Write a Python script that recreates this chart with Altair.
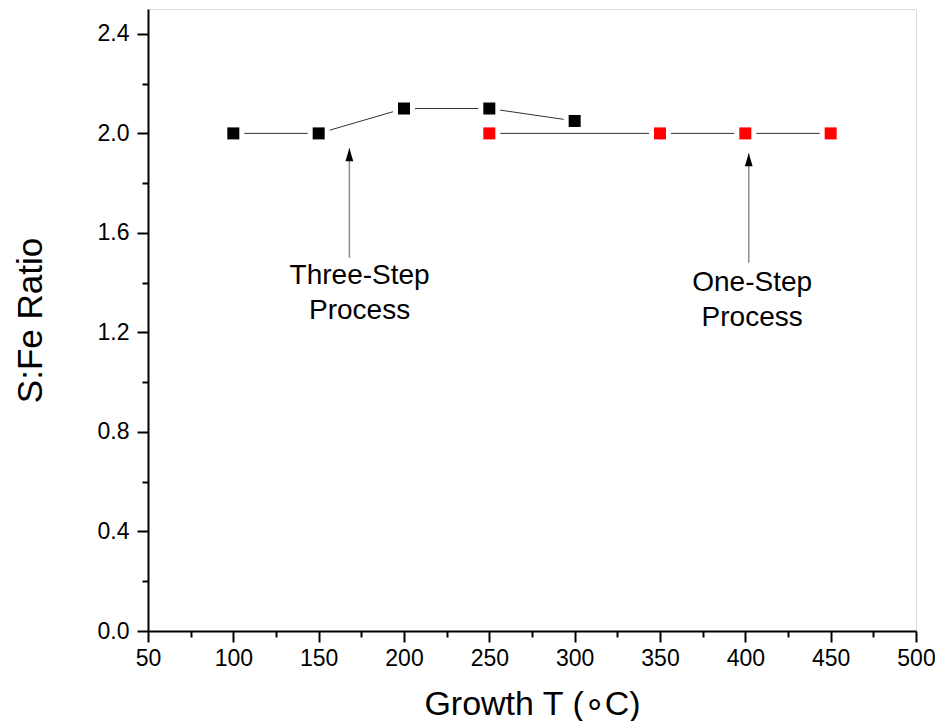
import altair as alt
import pandas as pd

# Series data
three_T = [100, 150, 200, 250, 300]
three_R = [2.0, 2.0, 2.1, 2.1, 2.05]
one_T = [250, 350, 400, 450]
one_R = [2.0, 2.0, 2.0, 2.0]

# Annotations
ann_label = ["Three-Step\nProcess", "One-Step\nProcess"]
ann_text_x = [174, 404]
ann_text_y = [1.425, 1.40]
arrow_x = [168, 402]
arrow_tip = [1.94, 1.92]
arrow_base = [1.50, 1.48]

x_ticks = list(range(50, 501, 25))
y_ticks = [round(i * 0.2, 1) for i in range(13)]

FONT = "Liberation Sans"

df = pd.DataFrame(
    {"T": three_T + one_T,
     "R": three_R + one_R,
     "s": ["three"] * len(three_T) + ["one"] * len(one_T)}
)
ann = pd.DataFrame({"label": ann_label, "tx": ann_text_x, "ty": ann_text_y,
                    "ax": arrow_x, "tip": arrow_tip, "base": arrow_base})

xscale = alt.Scale(domain=[50, 500], nice=False, zero=False)
yscale = alt.Scale(domain=[0, 2.5], nice=False, zero=False)

xaxis = alt.Axis(
    values=x_ticks, grid=False, title="Growth T (\u2218C)",
    labelExpr="datum.value % 50 === 0 ? datum.label : ''",
    tickSize={"condition": {"test": "datum.value % 50 === 0", "value": 11}, "value": 6},
    labelFontSize=23, labelFont=FONT, labelColor="black", labelPadding=5,
    titleFontSize=34, titleFont=FONT, titleFontWeight="normal", titleColor="black",
    titlePadding=17, domainColor="black", domainWidth=2, tickColor="black", tickWidth=2,
    labelFlush=False, labelOverlap=False,
)
yaxis = alt.Axis(
    values=y_ticks, grid=False, title="S:Fe Ratio", format=".1f",
    labelExpr="abs(datum.value/0.4 - round(datum.value/0.4)) < 0.001 ? format(datum.value, '.1f') : ''",
    tickSize={"condition": {"test": "abs(datum.value/0.4 - round(datum.value/0.4)) < 0.001", "value": 11}, "value": 6},
    labelFontSize=23, labelFont=FONT, labelColor="black", labelPadding=8,
    titleFontSize=35, titleFont=FONT, titleFontWeight="normal", titleColor="black",
    titlePadding=49, domainColor="black", domainWidth=2, tickColor="black", tickWidth=2,
    labelFlush=False, labelOverlap=False,
)

base = alt.Chart(df)
x = alt.X("T:Q", scale=xscale, axis=xaxis)
y = alt.Y("R:Q", scale=yscale, axis=yaxis)

lines = base.mark_line(strokeWidth=1, color="#333333").encode(
    x=x, y=y, detail="s:N"
)
halo = base.mark_point(shape="square", filled=True, size=484, color="white", opacity=1).encode(x=x, y=y)
pts = base.mark_point(shape="square", filled=True, size=144, opacity=1).encode(
    x=x, y=y,
    color=alt.Color("s:N", scale=alt.Scale(domain=["three", "one"], range=["black", "#ff0000"]), legend=None),
)

abase = alt.Chart(ann)
shaft = abase.mark_rule(color="#8c8c8c", strokeWidth=1.5).encode(
    x=alt.X("ax:Q", scale=xscale), y=alt.Y("base:Q", scale=yscale), y2="tip:Q"
)
head = abase.mark_point(
    shape="M0,0 L0.6,2 L-0.6,2 Z", filled=True, size=169, color="black", opacity=1
).encode(x=alt.X("ax:Q", scale=xscale), y=alt.Y("tip:Q", scale=yscale))
text = abase.mark_text(font=FONT, fontSize=28, color="black", lineBreak="\n", lineHeight=35,
                       baseline="middle", align="center").encode(
    x=alt.X("tx:Q", scale=xscale), y=alt.Y("ty:Q", scale=yscale), text="label:N"
)

chart = alt.layer(lines, halo, pts, shaft, head, text).properties(
    width=768, height=622,
    padding={"left": 140, "top": 1, "right": 19, "bottom": 90},
    autosize=alt.AutoSizeParams(type="none"),
).configure_view(stroke=None).configure(background="white")

chart.save("out.html", embed_options={"renderer": "svg", "actions": False})
